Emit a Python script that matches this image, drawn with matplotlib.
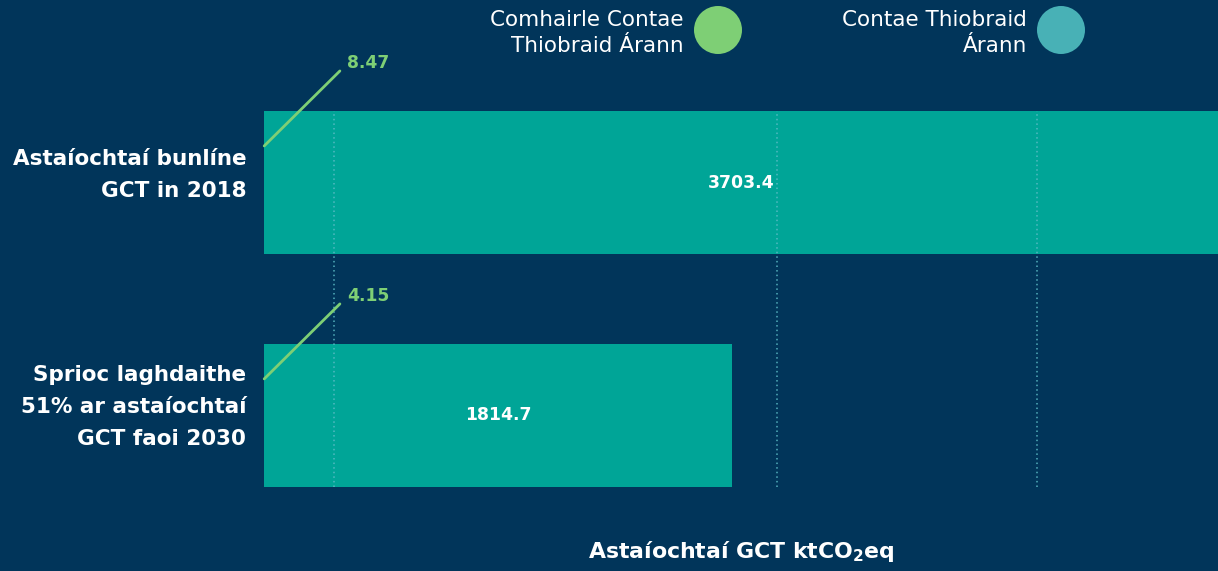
import matplotlib
matplotlib.use("Agg")
import matplotlib.pyplot as plt
from matplotlib.patches import Circle
import matplotlib.transforms as mtrans

# ---- data ----
categories = ["Astaíochtaí bunlíne\nGCT in 2018",
              "Sprioc laghdaithe\n51% ar astaíochtaí\nGCT faoi 2030"]
county_values = [3703.4, 1814.7]      # Contae Thiobraid Árann
council_values = [8.47, 4.15]         # Comhairle Contae Thiobraid Árann
county_labels = ["3703.4", "1814.7"]
council_labels = ["8.47", "4.15"]
legend_names = ["Comhairle Contae\nThiobraid Árann", "Contae Thiobraid\nÁrann"]
grid_values = [270, 1990, 3000]
xlabel = "Astaíochtaí GCT ktCO$_{\\mathbf{2}}$eq"

# ---- style ----
BG = "#01355A"
TEAL = "#00A597"
GREEN = "#7ECF75"
LEG_TEAL = "#48B1B6"
GRID = "#5CBCC6"
FONT = "DejaVu Sans"

plt.rcParams["font.family"] = [FONT]
plt.rcParams["mathtext.fontset"] = "custom"
plt.rcParams["mathtext.bf"] = f"{FONT}:bold"
plt.rcParams["mathtext.rm"] = f"{FONT}:bold"

W, H = 1218, 571
fig = plt.figure(figsize=(W / 100, H / 100), dpi=100, facecolor=BG)
ax = fig.add_axes([264.2 / W, 84 / H, (W - 264.2) / W, 376 / H])
ax.set_facecolor(BG)

h = 0.614
ypos = list(range(len(categories)))
ax.barh(ypos, council_values, height=h, color=GREEN, zorder=1)
ax.barh(ypos, county_values, height=h, color=TEAL, zorder=2)

ax.set_xlim(0, max(county_values))
ax.set_ylim(len(categories) - 1 + h / 2, -h / 2)

for gv in grid_values:
    ax.axvline(gv, color=GRID, lw=1.1, ls=(0, (1, 2)), zorder=3, alpha=0.9)

for y, v, lab in zip(ypos, county_values, county_labels):
    ax.text(v / 2, y, lab, ha="center", va="center", color="white",
            fontsize=12.4, fontweight="bold", zorder=4)

for y, lab in zip(ypos, council_labels):
    y0 = y - 0.157
    ax.annotate("", xy=(0, y0), xytext=(54.5, 54), textcoords="offset points",
                arrowprops=dict(arrowstyle="-", color=GREEN, lw=2,
                                shrinkA=0, shrinkB=0), zorder=5,
                annotation_clip=False)
    ax.annotate(lab, xy=(0, y0), xytext=(59.5, 60), textcoords="offset points",
                ha="left", va="center", color=GREEN, fontsize=12.3,
                fontweight="bold", annotation_clip=False)

ax.set_yticks(ypos)
ax.set_yticklabels(categories, fontsize=15.5, fontweight="bold", color="white",
                   linespacing=1.75)
ax.tick_params(axis="y", length=0, pad=13)
ax.tick_params(axis="x", length=0, labelbottom=False)
for s in ax.spines.values():
    s.set_visible(False)

off = mtrans.ScaledTranslation(0, 16 / 100, fig.dpi_scale_trans)
for t in ax.get_yticklabels():
    t.set_transform(t.get_transform() + off)

fig.text(741 / W, 1 - 552 / H, xlabel, ha="center", va="center",
         color="white", fontsize=15.8, fontweight="bold")

# legend
leg_items = [(684, 718, GREEN), (1027, 1061, LEG_TEAL)]
for name, (tx, cx, col) in zip(legend_names, leg_items):
    fig.text(tx / W, 1 - 33 / H, name, ha="right", va="center", color="white",
             fontsize=15.5, linespacing=1.4)
    fig.patches.append(Circle((cx, H - 30), 24, transform=None,
                              facecolor=col, edgecolor="none"))

fig.savefig("out.png", dpi=100, facecolor=BG)
